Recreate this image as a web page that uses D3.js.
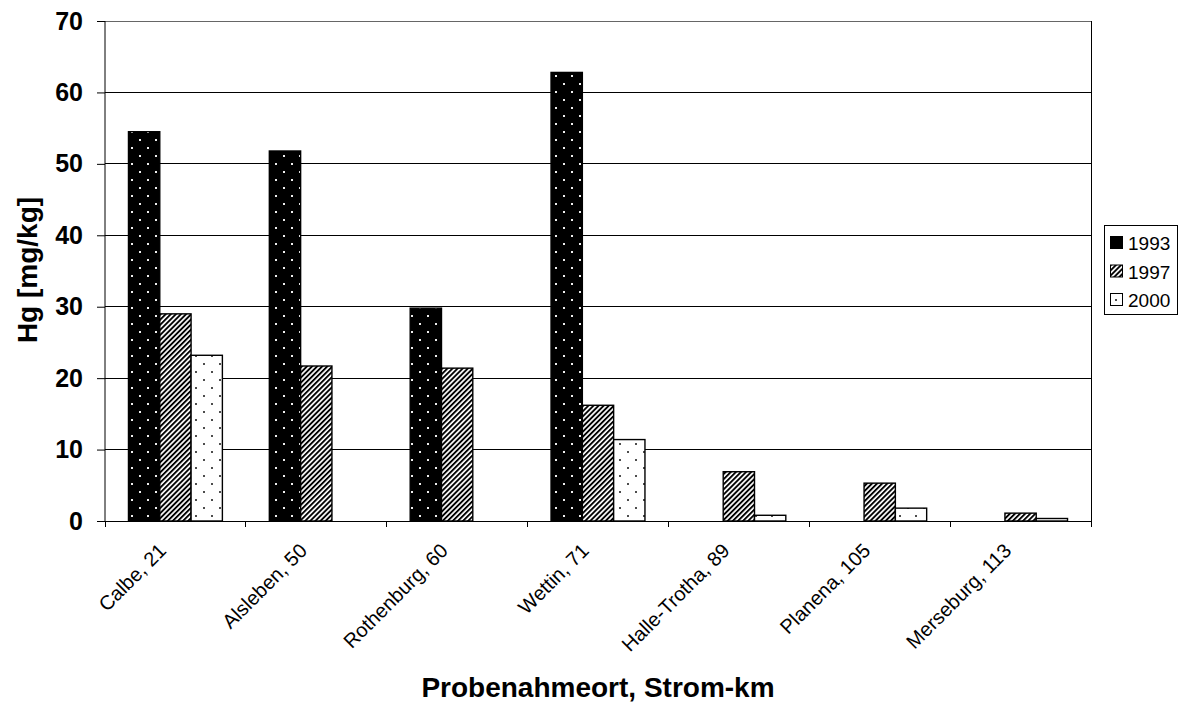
<!DOCTYPE html>
<html><head><meta charset="utf-8">
<script src="https://cdn.jsdelivr.net/npm/d3@7"></script>
<style>body{margin:0;background:#fff}svg{display:block}text{font-family:"Liberation Sans",Arial,sans-serif}</style>
</head><body><svg id="c" width="1179" height="702"></svg>
<script>
const categories = ["Calbe, 21","Alsleben, 50","Rothenburg, 60","Wettin, 71","Halle-Trotha, 89","Planena, 105","Merseburg, 113"];
const series = ["1993","1997","2000"];
const values1993 = [54.5, 51.8, 29.8, 62.8, null, null, null];
const values1997 = [29.0, 21.7, 21.4, 16.2, 6.9, 5.3, 1.1];
const values2000 = [23.2, null, null, 11.4, 0.8, 1.8, 0.35];
const yTicks = [0,10,20,30,40,50,60,70];
const yTitle = "Hg [mg/kg]";
const xTitle = "Probenahmeort, Strom-km";

const seriesValues = {"1993": values1993, "1997": values1997, "2000": values2000};
const svg = d3.select("#c");
const L = 105, R = 1091, T = 21, B = 521;

const defs = svg.append("defs");
// 1993: black with white dots
const p1 = defs.append("pattern").attr("id","p1993").attr("patternUnits","userSpaceOnUse").attr("width",16).attr("height",16);
p1.append("rect").attr("width",16).attr("height",16).attr("fill","#000");
[[4,4],[12,12]].forEach(([x,y])=>p1.append("rect").attr("x",x-1).attr("y",y-1).attr("width",2).attr("height",2).attr("fill","#eee"));
// 1997: upward diagonal stripes
const p2 = defs.append("pattern").attr("id","p1997").attr("patternUnits","userSpaceOnUse").attr("width",3.6).attr("height",3.6).attr("patternTransform","rotate(45)");
p2.append("rect").attr("width",3.6).attr("height",3.6).attr("fill","#fff");
p2.append("rect").attr("width",1.9).attr("height",3.6).attr("fill","#000");
// 2000: white with black dots
const p3 = defs.append("pattern").attr("id","p2000").attr("patternUnits","userSpaceOnUse").attr("width",16).attr("height",16);
p3.append("rect").attr("width",16).attr("height",16).attr("fill","#fff");
[[4,4],[12,12]].forEach(([x,y])=>p3.append("rect").attr("x",x-0.9).attr("y",y-0.9).attr("width",1.8).attr("height",1.8).attr("fill","#222"));
const fills = {"1993":"url(#p1993)","1997":"url(#p1997)","2000":"url(#p2000)"};

const x0 = d3.scaleBand().domain(categories).range([L,R]).paddingInner(0).paddingOuter(0);
const x1 = d3.scaleBand().domain(series).range([0,x0.bandwidth()]).paddingInner(0).paddingOuter(0.75);
const y = d3.scaleLinear().domain([0,70]).range([B,T]);

// gridlines
svg.append("g").selectAll("line").data(yTicks.filter(d=>d>0)).join("line")
  .attr("x1",L).attr("x2",R).attr("y1",d=>y(d)).attr("y2",d=>y(d))
  .attr("stroke",d=>d===70?"#666":"#000").attr("stroke-width",1).attr("shape-rendering","crispEdges");
// right border
svg.append("line").attr("x1",R).attr("x2",R).attr("y1",T).attr("y2",B).attr("stroke","#000").attr("shape-rendering","crispEdges");

// bars
const g = svg.append("g");
categories.forEach((c,i)=>{
  series.forEach(s=>{
    const v = seriesValues[s][i];
    if(v==null) return;
    g.append("rect").attr("x",x0(c)+x1(s)).attr("width",x1.bandwidth())
      .attr("y",y(v)).attr("height",B-y(v))
      .attr("fill",fills[s]).attr("stroke","#000").attr("stroke-width",1.4);
  });
});

// y axis
const ya = svg.append("g").attr("transform",`translate(${L},0)`)
  .call(d3.axisLeft(y).tickValues(yTicks).tickSize(8).tickPadding(14).tickFormat(d3.format("d")));
ya.select(".domain").attr("stroke","#000").attr("d",`M0,${T}V${B}`);
ya.selectAll(".tick line").attr("stroke","#000");
ya.selectAll("text").attr("font-size",25).attr("font-weight","bold").attr("fill","#000").attr("font-family","Liberation Sans, Arial, sans-serif");

// x axis
const xa = svg.append("g").attr("transform",`translate(0,${B})`);
xa.append("line").attr("x1",L).attr("x2",R).attr("stroke","#000").attr("shape-rendering","crispEdges");
const bounds = categories.map(c=>x0(c)).concat([R]);
xa.selectAll("line.t").data(bounds).join("line").attr("class","t")
  .attr("x1",d=>d).attr("x2",d=>d).attr("y1",0).attr("y2",6).attr("stroke","#000").attr("shape-rendering","crispEdges");
xa.selectAll("text").data(categories).join("text")
  .attr("transform",c=>`translate(${x0(c)+x0.bandwidth()/2-8},${31}) rotate(-45)`)
  .attr("text-anchor","end").attr("font-size",20).attr("fill","#000").text(c=>c);

// titles
svg.append("text").attr("transform","translate(37,270) rotate(-90)").attr("text-anchor","middle")
  .attr("font-size",28).attr("font-weight","bold").text(yTitle);
svg.append("text").attr("x",598).attr("y",697).attr("text-anchor","middle")
  .attr("font-size",28).attr("font-weight","bold").text(xTitle);

// legend
const lg = svg.append("g");
lg.append("rect").attr("x",1104.5).attr("y",225.5).attr("width",73).attr("height",89).attr("fill","#fff").attr("stroke","#000");
series.forEach((s,i)=>{
  const cy = 243 + i*28.5;
  lg.append("rect").attr("x",1110.5).attr("y",cy-6.5).attr("width",12).attr("height",12).attr("fill",fills[s]).attr("stroke","#000");
  lg.append("text").attr("x",1128).attr("y",cy+7).attr("font-size",19).text(s);
});
</script></body></html>
